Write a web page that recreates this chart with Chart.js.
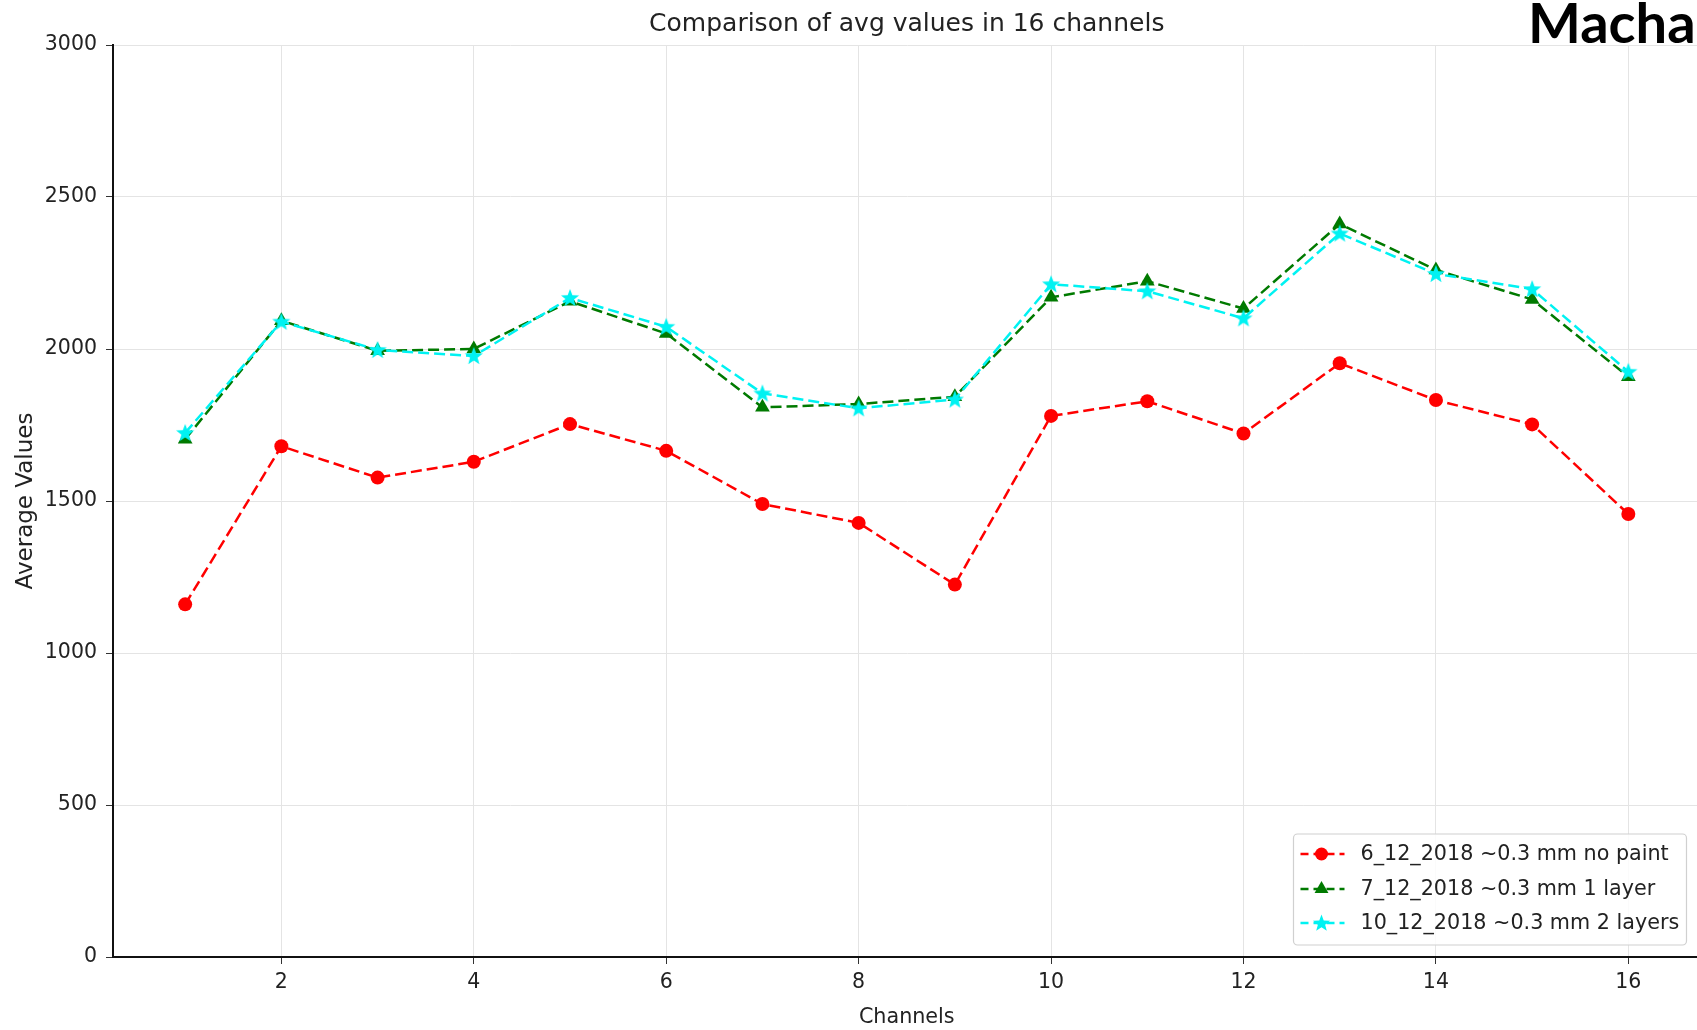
<!DOCTYPE html>
<html>
<head>
<meta charset="utf-8">
<script src="https://cdn.jsdelivr.net/npm/chart.js"></script>
<style>
  html, body { margin: 0; padding: 0; background: #fff; overflow: hidden; }
  #wrap { width: 1712px; height: 1030px; }
</style>
</head>
<body>
<div id="wrap"><canvas id="myChart" width="1712" height="1030"></canvas></div>
<script>
const channels = [1, 2, 3, 4, 5, 6, 7, 8, 9, 10, 11, 12, 13, 14, 15, 16];
const noPaint = [1160, 1680, 1577, 1629, 1753, 1665, 1490, 1428, 1225, 1780, 1828, 1722, 1953, 1832, 1752, 1457];
const oneLayer = [1703, 2093, 1994, 2000, 2157, 2051, 1808, 1819, 1843, 2170, 2223, 2133, 2411, 2260, 2163, 1909];
const twoLayers = [1724, 2090, 1997, 1977, 2168, 2073, 1854, 1805, 1834, 2213, 2190, 2101, 2380, 2247, 2197, 1925];
const seriesNames = ['6_12_2018 ~0.3 mm no paint', '7_12_2018 ~0.3 mm 1 layer', '10_12_2018 ~0.3 mm 2 layers'];
const xTicks = [2, 4, 6, 8, 10, 12, 14, 16];
const chartTitle = 'Comparison of avg values in 16 channels';
const cornerText = 'Macha';

const ctx = document.getElementById('myChart').getContext('2d');
const RED = '#ff0000';
const GREEN = '#007a00';
const CYAN = '#00f2f2';
const FONT = '"DejaVu Sans", sans-serif';

// filled 5 point star, used as point style
function starPath(c, x, y, ro, ri) {
    c.beginPath();
    for (let i = 0; i < 10; i++) {
        let r = i % 2 === 0 ? ro : ri;
        let a = -Math.PI / 2 + i * Math.PI / 5;
        let px = x + Math.cos(a) * r;
        let py = y + Math.sin(a) * r;
        if (i === 0) c.moveTo(px, py); else c.lineTo(px, py);
    }
    c.closePath();
}
const starImg = document.createElement('canvas');
starImg.width = 20;
starImg.height = 20;
(function() {
    let c = starImg.getContext('2d');
    starPath(c, 10, 10.5, 9.5, 4);
    c.fillStyle = CYAN;
    c.fill();
})();

function toPoints(vals) {
    return channels.map((ch, i) => ({x: ch, y: vals[i]}));
}

function drawMarker(c, kind, x, y) {
    if (kind === 'circle') {
        c.beginPath();
        c.arc(x, y, 6.5, 0, Math.PI * 2);
        c.fillStyle = RED;
        c.fill();
    } else if (kind === 'triangle') {
        let r = 8;
        c.beginPath();
        c.moveTo(x, y - r);
        c.lineTo(x + r * 0.866, y + r * 0.5);
        c.lineTo(x - r * 0.866, y + r * 0.5);
        c.closePath();
        c.fillStyle = GREEN;
        c.fill();
    } else {
        starPath(c, x, y + 0.5, 9, 3.8);
        c.fillStyle = CYAN;
        c.fill();
    }
}

const extras = {
    id: 'extras',
    afterDraw(chart) {
        const c = chart.ctx;
        const area = chart.chartArea;
        c.save();
        // title over the axes
        c.font = '25px ' + FONT;
        c.fillStyle = '#222';
        c.textAlign = 'center';
        c.textBaseline = 'middle';
        c.fillText(chartTitle, (area.left + area.right) / 2, 24);

        // legend box, lower right
        const bx = area.right - 14 - 393;
        const by = area.bottom - 12 - 111;
        c.beginPath();
        c.roundRect(bx, by, 393, 111, 4);
        c.fillStyle = 'rgba(255,255,255,0.85)';
        c.fill();
        c.strokeStyle = '#d0d0d0';
        c.lineWidth = 1.2;
        c.stroke();
        const kinds = ['circle', 'triangle', 'star'];
        const colors = [RED, GREEN, CYAN];
        const rows = [20, 55, 89];
        for (let i = 0; i < 3; i++) {
            let yy = by + rows[i];
            c.beginPath();
            c.setLineDash([8, 5]);
            c.moveTo(bx + 7, yy);
            c.lineTo(bx + 51, yy);
            c.strokeStyle = colors[i];
            c.lineWidth = 2.5;
            c.stroke();
            c.setLineDash([]);
            drawMarker(c, kinds[i], bx + 28, yy);
            c.font = '20.7px ' + FONT;
            c.fillStyle = '#222';
            c.textAlign = 'left';
            c.textBaseline = 'middle';
            c.fillText(seriesNames[i], bx + 67, yy + 1);
        }

        // slide heading bleeding in at the top right
        c.font = 'bold 56px Lato, "Open Sans", sans-serif';
        c.fillStyle = '#000';
        c.textAlign = 'left';
        c.textBaseline = 'alphabetic';
        c.fillText(cornerText, 1528, 43);
        c.restore();
    }
};

let myChart = new Chart(ctx, {
    type: 'line',
    data: {
        datasets: [{
            label: seriesNames[0],
            data: toPoints(noPaint),
            borderColor: RED,
            backgroundColor: RED,
            borderWidth: 2.5,
            borderDash: [11, 5],
            pointStyle: 'circle',
            pointRadius: 7,
            pointBorderWidth: 0,
            order: 2
        }, {
            label: seriesNames[1],
            data: toPoints(oneLayer),
            borderColor: GREEN,
            backgroundColor: GREEN,
            borderWidth: 2.5,
            borderDash: [11, 5],
            pointStyle: 'triangle',
            pointRadius: 8.5,
            pointBorderWidth: 0,
            order: 1
        }, {
            label: seriesNames[2],
            data: toPoints(twoLayers),
            borderColor: CYAN,
            backgroundColor: CYAN,
            borderWidth: 2.5,
            borderDash: [11, 5],
            pointStyle: starImg,
            pointRadius: 9,
            order: 0
        }]
    },
    options: {
        responsive: false,
        animation: false,
        layout: { padding: { top: 45, left: 0, right: 10, bottom: 0 } },
        plugins: {
            legend: { display: false },
            title: { display: false },
            tooltip: { enabled: false }
        },
        scales: {
            x: {
                type: 'linear',
                min: 0.25,
                max: 16.75,
                afterBuildTicks: axis => { axis.ticks = xTicks.map(v => ({value: v})); },
                afterFit: s => { s.height = 73; },
                grid: { color: '#e4e4e4', lineWidth: 1, tickColor: '#333', tickLength: 7 },
                border: { display: true, color: '#111', width: 2 },
                ticks: { color: '#222', font: { family: FONT, size: 20.5 }, padding: 6, maxRotation: 0 },
                title: { display: true, text: 'Channels', color: '#222', font: { family: FONT, size: 20.7 }, padding: { top: 0, bottom: 0 } }
            },
            y: {
                min: 0,
                max: 3000,
                afterFit: s => { s.width = 113; },
                grid: { color: '#e4e4e4', lineWidth: 1, tickColor: '#333', tickLength: 7 },
                border: { display: true, color: '#111', width: 2 },
                ticks: { stepSize: 500, color: '#222', font: { family: FONT, size: 20.5 }, padding: 9,
                         callback: v => String(v) },
                title: { display: true, text: 'Average Values', color: '#222', font: { family: FONT, size: 23 }, padding: { top: 12, bottom: 0 } }
            }
        }
    },
    plugins: [extras]
});
</script>
</body>
</html>
